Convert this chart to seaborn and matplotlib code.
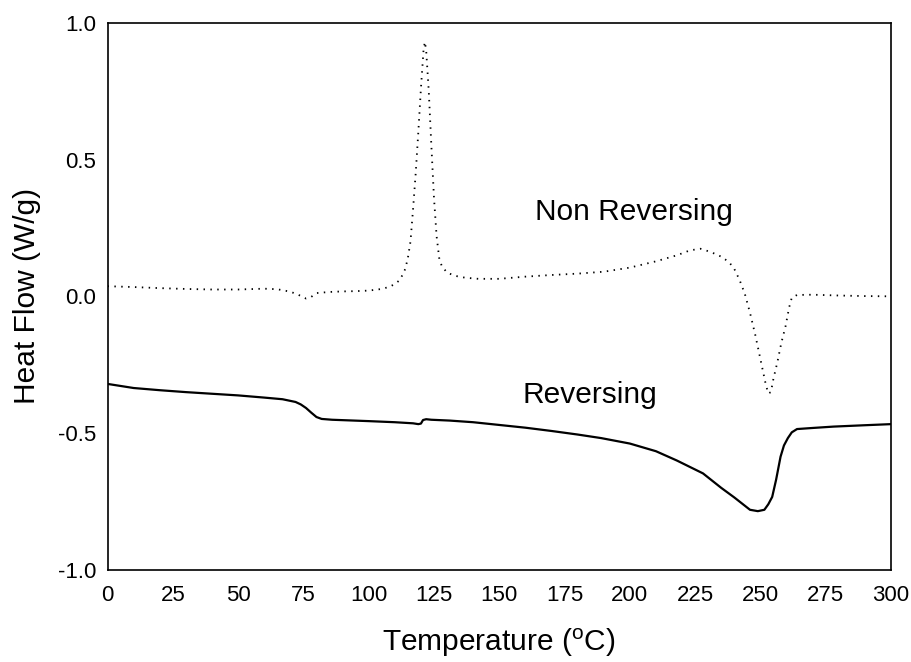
import numpy as np
import pandas as pd
import matplotlib
matplotlib.use("Agg")
import matplotlib.pyplot as plt
import seaborn as sns

# Non Reversing heat flow (dotted)
nr_temp = [0, 10, 20, 30, 40, 50, 60, 65, 70, 73, 76, 78, 80, 85, 90, 95, 100, 105, 108,
           110, 112, 114, 115, 116, 117, 118, 119, 120, 121, 121.5, 122, 123, 124, 125,
           126, 127, 128, 130, 133, 137, 142, 150, 160, 170, 180, 190, 200, 210, 218,
           223, 227, 231, 235, 238, 240, 242, 244, 246, 248, 250, 252, 253, 254, 255,
           256.5, 258, 259.6, 261, 262, 264, 270, 280, 290, 300]
nr_flow = [0.037, 0.034, 0.030, 0.027, 0.025, 0.025, 0.028, 0.026, 0.017, 0.006, -0.008,
           -0.002, 0.012, 0.016, 0.018, 0.019, 0.021, 0.027, 0.035, 0.045, 0.06, 0.10,
           0.14, 0.20, 0.32, 0.45, 0.60, 0.76, 0.90, 0.93, 0.90, 0.75, 0.55, 0.36, 0.22,
           0.14, 0.11, 0.087, 0.075, 0.068, 0.064, 0.064, 0.072, 0.078, 0.083, 0.090,
           0.105, 0.128, 0.15, 0.168, 0.174, 0.162, 0.145, 0.125, 0.10, 0.06, 0.01,
           -0.06, -0.14, -0.23, -0.32, -0.355, -0.35, -0.30, -0.24, -0.17, -0.11, -0.04,
           -0.005, 0.005, 0.006, 0.003, 0.001, 0.0]

# Reversing heat flow (solid)
rv_temp = [0, 10, 20, 30, 40, 50, 60, 67, 72, 74, 76, 78, 80, 82, 86, 100, 110, 117, 119,
           120, 120.8, 122, 124, 131, 140, 150, 160, 170, 180, 189, 200, 210, 218, 228,
           235, 240, 244, 246, 249, 251.5, 253, 254.5, 256, 257.7, 259, 260.5, 262, 264,
           270, 278, 290, 300]
rv_flow = [-0.320, -0.335, -0.343, -0.350, -0.356, -0.362, -0.370, -0.376, -0.386, -0.395,
           -0.408, -0.425, -0.441, -0.448, -0.451, -0.456, -0.460, -0.464, -0.467, -0.465,
           -0.452, -0.449, -0.451, -0.454, -0.460, -0.470, -0.480, -0.492, -0.505, -0.518,
           -0.538, -0.566, -0.600, -0.647, -0.700, -0.735, -0.765, -0.780, -0.785, -0.780,
           -0.760, -0.733, -0.67, -0.586, -0.545, -0.518, -0.497, -0.485, -0.481, -0.476,
           -0.471, -0.467]

x_ticks = [0, 25, 50, 75, 100, 125, 150, 175, 200, 225, 250, 275, 300]
y_ticks = [-1.0, -0.5, 0.0, 0.5, 1.0]

sns.set_style("white")
plt.rcParams['font.family'] = ['Liberation Sans', 'DejaVu Sans']
plt.rcParams['axes.unicode_minus'] = False
plt.rcParams['mathtext.fontset'] = 'custom'
plt.rcParams['mathtext.rm'] = 'Liberation Sans'
plt.rcParams['text.color'] = 'black'
plt.rcParams['axes.labelcolor'] = 'black'

fig = plt.figure(figsize=(9.12, 6.62), dpi=100)
ax = fig.add_axes([0.1179, 0.139, 0.977 - 0.1179, 0.9657 - 0.139])

df_nr = pd.DataFrame({"Temperature": nr_temp, "Heat Flow": nr_flow})
df_rv = pd.DataFrame({"Temperature": rv_temp, "Heat Flow": rv_flow})

sns.lineplot(data=df_nr, x="Temperature", y="Heat Flow", ax=ax, color="black",
             linewidth=1.3, linestyle=(0, (0.8, 3.0)))
sns.lineplot(data=df_rv, x="Temperature", y="Heat Flow", ax=ax, color="black",
             linewidth=1.6)

ax.set_xlim(0, 300)
ax.set_ylim(-1.0, 1.0)
ax.set_xticks(x_ticks)
ax.set_xticklabels([str(t) for t in x_ticks])
ax.set_yticks(y_ticks)
ax.set_yticklabels([f"{t:.1f}" for t in y_ticks])
ax.tick_params(axis='both', direction='in', length=6, width=1.0, labelsize=16,
               color='black', labelcolor='black')
ax.tick_params(axis='x', pad=11)
ax.tick_params(axis='y', pad=8)

for s in ax.spines.values():
    s.set_visible(True)
    s.set_color('black')
    s.set_linewidth(1.2)

ax.set_xlabel("Temperature ($\\mathregular{^{o}}$C)", fontsize=21.5, labelpad=15,
              color='black')
ax.set_ylabel("Heat Flow (W/g)", fontsize=21.5, labelpad=12, color='black')

ax.text(201.7, 0.31, "Non Reversing", fontsize=21.5, ha='center', va='center',
        color='black')
ax.text(184.5, -0.36, "Reversing", fontsize=21.5, ha='center', va='center',
        color='black')

fig.savefig("out.png", dpi=100)
